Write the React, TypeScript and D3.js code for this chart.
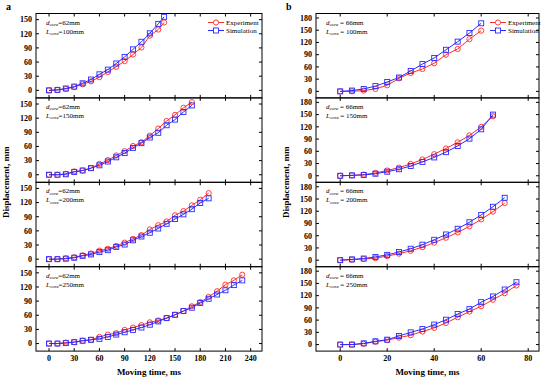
import React from "react";
import * as d3 from "d3";

// ---------- Panel a (d_core = 62mm) ----------
const aTime100 = [0, 10, 20, 30, 40, 50, 60, 70, 80, 90, 100, 110, 120, 130, 137];
const aExp100 = [0, 1, 3, 7, 13, 19, 28, 39, 50, 62, 76, 91, 116, 129, 144];
const aSim100 = [0, 1, 4, 8, 15, 23, 34, 44, 57, 71, 87, 103, 121, 141, 156];

const aTime150 = [0, 10, 20, 30, 40, 50, 60, 70, 80, 90, 100, 110, 120, 130, 140, 150, 160, 170];
const aExp150 = [0, 0, 2, 7, 9, 14, 23, 31, 41, 50, 61, 69, 83, 98, 114, 127, 142, 154];
const aSim150 = [0, 0, 1, 6, 9, 14, 20, 28, 37, 46, 57, 67, 79, 89, 105, 117, 133, 147];

const aTime200 = [0, 10, 20, 30, 40, 50, 60, 70, 80, 90, 100, 110, 120, 130, 140, 150, 160, 170, 180, 190];
const aExp200 = [0, 0, 2, 4, 8, 12, 18, 22, 28, 35, 43, 51, 63, 72, 80, 93, 102, 114, 126, 140];
const aSim200 = [0, 0, 1, 3, 7, 10, 15, 19, 26, 31, 40, 48, 56, 65, 75, 85, 95, 106, 119, 129];

const aTime250 = [0, 10, 20, 30, 40, 50, 60, 70, 80, 90, 100, 110, 120, 130, 140, 150, 160, 170, 180, 190, 200, 210, 220, 230];
const aExp250 = [0, 0, 2, 3, 6, 8, 14, 19, 22, 29, 34, 39, 45, 49, 54, 61, 69, 79, 88, 99, 111, 125, 134, 146];
const aSim250 = [0, 0, 1, 3, 6, 8, 10, 14, 19, 24, 29, 34, 40, 47, 54, 61, 69, 76, 86, 95, 104, 113, 124, 134];

// ---------- Panel b (d_core = 66mm) ----------
const bTime100 = [0, 5, 10, 15, 20, 25, 30, 35, 40, 45, 50, 55, 60];
const bExp100 = [0, 0, 2, 6, 15, 32, 45, 55, 69, 90, 104, 128, 149];
const bSim100 = [0, 2, 6, 13, 23, 34, 50, 67, 82, 102, 122, 143, 167];

const bTime150 = [0, 5, 10, 15, 20, 25, 30, 35, 40, 45, 50, 55, 60, 65];
const bExp150 = [0, 1, 3, 7, 13, 20, 29, 40, 53, 67, 82, 99, 120, 146];
const bSim150 = [0, 1, 2, 5, 10, 16, 24, 34, 45, 58, 73, 91, 114, 150];

const bTime200 = [0, 5, 10, 15, 20, 25, 30, 35, 40, 45, 50, 55, 60, 65, 70];
const bExp200 = [0, 1, 3, 5, 10, 16, 23, 32, 43, 55, 68, 83, 100, 119, 140];
const bSim200 = [0, 2, 4, 8, 13, 20, 28, 38, 50, 63, 77, 93, 111, 131, 153];

const bTime250 = [0, 5, 10, 15, 20, 25, 30, 35, 40, 45, 50, 55, 60, 65, 70, 75];
const bExp250 = [0, 0, 2, 7, 11, 17, 23, 32, 41, 53, 67, 81, 94, 110, 126, 145];
const bSim250 = [0, 0, 3, 8, 12, 21, 30, 38, 49, 61, 75, 87, 104, 118, 135, 153];

const coreLengths = ["100mm", "150mm", "200mm", "250mm"];
const aXTicks = [0, 30, 60, 90, 120, 150, 180, 210, 240];
const aYTicks = [0, 30, 60, 90, 120, 150];
const bXTicks = [0, 20, 40, 60, 80];
const bYTicks = [0, 30, 60, 90, 120, 150, 180];
const seriesNames = ["Experiment", "Simulation"];

const aData = [
  { t: aTime100, e: aExp100, s: aSim100 },
  { t: aTime150, e: aExp150, s: aSim150 },
  { t: aTime200, e: aExp200, s: aSim200 },
  { t: aTime250, e: aExp250, s: aSim250 },
];
const bData = [
  { t: bTime100, e: bExp100, s: bSim100 },
  { t: bTime150, e: bExp150, s: bSim150 },
  { t: bTime200, e: bExp200, s: bSim200 },
  { t: bTime250, e: bExp250, s: bSim250 },
];

const FONT = "'Liberation Serif', 'Times New Roman', serif";
const RED = "#ff2a2a";
const BLUE = "#2a2aff";
const TOP = 13.5;
const PH = 84.4;
const TICK = 3;

type PanelProps = {
  left: number;
  right: number;
  xDomain: [number, number];
  yDomain: [number, number];
  xTicks: number[];
  yTicks: number[];
  data: { t: number[]; e: number[]; s: number[] }[];
  dLabel: string;
  eqSep: string;
  legendX: number;
  tag: string;
};

function Series({ t, v, x, y, color, kind }: any) {
  const line = d3
    .line<number>()
    .x((_, i) => x(t[i]))
    .y((d) => y(d));
  return (
    <g>
      <path d={line(v) || ""} fill="none" stroke={color} strokeWidth={1} />
      {v.map((d: number, i: number) =>
        kind === "circle" ? (
          <circle key={i} cx={x(t[i])} cy={y(d)} r={2.6} fill="none" stroke={color} strokeWidth={0.9} />
        ) : (
          <rect key={i} x={x(t[i]) - 2.5} y={y(d) - 2.5} width={5} height={5} fill="none" stroke={color} strokeWidth={0.9} />
        )
      )}
    </g>
  );
}

function Panel(p: PanelProps) {
  const x = d3.scaleLinear().domain(p.xDomain).range([p.left, p.right]);
  return (
    <g fontFamily={FONT}>
      <text x={p.left - 30} y={10} fontSize={10} fontWeight="bold">{p.tag}</text>
      {p.data.map((d, k) => {
        const top = TOP + k * PH;
        const bottom = top + PH;
        const y = d3.scaleLinear().domain(p.yDomain).range([bottom, top]);
        const last = k === p.data.length - 1;
        return (
          <g key={k}>
            <rect x={p.left} y={top} width={p.right - p.left} height={PH} fill="none" stroke="black" strokeWidth={1} />
            {p.xTicks.map((tv) => (
              <g key={"x" + tv}>
                <line x1={x(tv)} x2={x(tv)} y1={bottom} y2={bottom - TICK} stroke="black" />
                <line x1={x(tv)} x2={x(tv)} y1={top} y2={top + TICK} stroke="black" />
                {last && (
                  <text x={x(tv)} y={bottom + 10} fontSize={8} fontWeight="bold" textAnchor="middle">{tv}</text>
                )}
              </g>
            ))}
            {p.yTicks.map((tv) => (
              <g key={"y" + tv}>
                <line x1={p.left} x2={p.left + TICK} y1={y(tv)} y2={y(tv)} stroke="black" />
                <line x1={p.right} x2={p.right - TICK} y1={y(tv)} y2={y(tv)} stroke="black" />
                <text x={p.left - 4} y={y(tv)} dy="0.35em" fontSize={8} fontWeight="bold" textAnchor="end">{tv}</text>
              </g>
            ))}
            <Series t={d.t} v={d.e} x={x} y={y} color={RED} kind="circle" />
            <Series t={d.t} v={d.s} x={x} y={y} color={BLUE} kind="square" />
            <text x={p.left + 10} y={top + 11} fontSize={7}>
              <tspan fontStyle="italic">d</tspan>
              <tspan fontStyle="italic" fontSize={5} dy={1.5}>core</tspan>
              <tspan dy={-1.5}>{p.eqSep + p.dLabel}</tspan>
            </text>
            <text x={p.left + 10} y={top + 20} fontSize={7}>
              <tspan fontStyle="italic">L</tspan>
              <tspan fontStyle="italic" fontSize={5} dy={1.5}>core</tspan>
              <tspan dy={-1.5}>{p.eqSep + coreLengths[k]}</tspan>
            </text>
            {k === 0 &&
              seriesNames.map((nm, i) => {
                const ly = top + 9 + i * 8;
                const c = i === 0 ? RED : BLUE;
                const cx = p.legendX + 8;
                return (
                  <g key={nm}>
                    <line x1={p.legendX} x2={p.legendX + 16} y1={ly} y2={ly} stroke={c} strokeWidth={1} />
                    {i === 0 ? (
                      <circle cx={cx} cy={ly} r={2.6} fill="white" stroke={c} strokeWidth={0.9} />
                    ) : (
                      <rect x={cx - 2.5} y={ly - 2.5} width={5} height={5} fill="white" stroke={c} strokeWidth={0.9} />
                    )}
                    <text x={p.legendX + 18} y={ly} dy="0.35em" fontSize={7}>{nm}</text>
                  </g>
                );
              })}
          </g>
        );
      })}
      <text x={(p.left + p.right) / 2} y={375} fontSize={9} fontWeight="bold" textAnchor="middle">
        Moving time, ms
      </text>
      <text
        transform={`translate(${p.left - 27},${TOP + 2 * PH}) rotate(-90)`}
        fontSize={9}
        fontWeight="bold"
        textAnchor="middle"
      >
        Displacement, mm
      </text>
    </g>
  );
}

export default function App() {
  return (
    <svg width={550} height={382} style={{ position: "absolute", left: 0, top: 0, background: "white" }}>
      <Panel
        left={36}
        right={262}
        xDomain={[-15.5, 253.5]}
        yDomain={[-16, 163]}
        xTicks={aXTicks}
        yTicks={aYTicks}
        data={aData}
        dLabel="62mm"
        eqSep="="
        legendX={208}
        tag="a"
      />
      <Panel
        left={316}
        right={539}
        xDomain={[-10.3, 84.6]}
        yDomain={[-16, 191]}
        xTicks={bXTicks}
        yTicks={bYTicks}
        data={bData}
        dLabel="66mm"
        eqSep=" = "
        legendX={490}
        tag="b"
      />
    </svg>
  );
}
